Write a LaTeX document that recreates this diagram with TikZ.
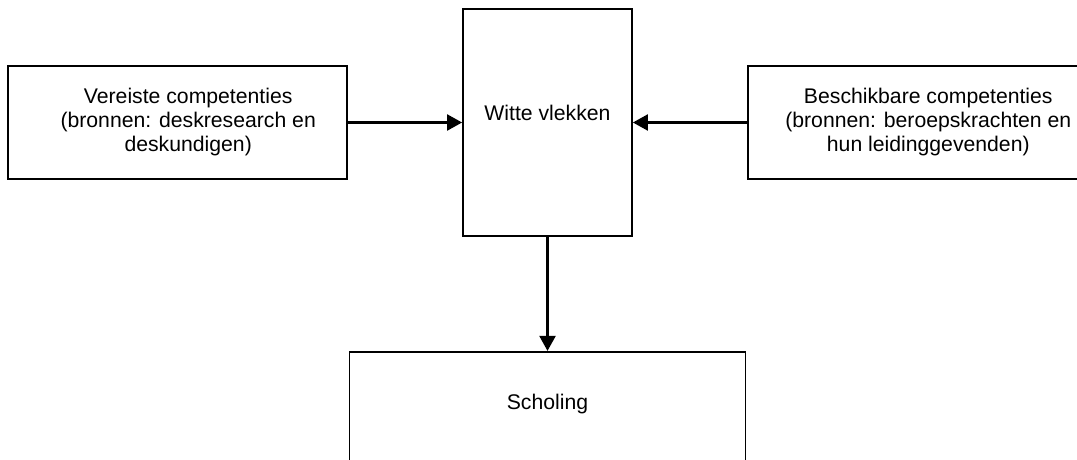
\documentclass[tikz,border=0pt]{standalone}
\usepackage{fontspec}
\setmainfont{Liberation Sans}
\usepackage{tikz}
\usetikzlibrary{arrows.meta,positioning}

\begin{document}
\begin{tikzpicture}[x=1pt, y=1pt, node distance =114pt,
box/.style={draw, line width=1.8pt, align=center, inner sep=0pt,
font=\fontsize{21.2}{24}\selectfont},
flow/.style={-{Triangle[length=15pt,width=16pt]}, line width=2.2pt}]
\useasboundingbox (0,0) rectangle (1077,-459);
\node [box, minimum width=169pt, minimum height=227pt, text depth=20pt] (witte) at (547.5,-122.5) {Witte vlekken};
\node [box, minimum width=339pt, minimum height=113pt] (vereiste) [left = of witte]
{\hspace*{21pt}Vereiste competenties\\\hspace*{21pt}(bronnen: deskresearch en\\\hspace*{21pt}deskundigen)};
\node [box, minimum width=361pt, minimum height=113pt] (beschikbaar) [right = of witte] {Beschikbare competenties\\(bronnen: beroepskrachten en\\hun leidinggevenden)};
\node [box, minimum width=396pt, text height=58pt, text depth=63pt] (scholing) [below = of witte] {Scholing};
\path [flow]
(vereiste) edge (witte)
(beschikbaar) edge (witte)
(witte) edge (scholing);
\end{tikzpicture}
\end{document}
